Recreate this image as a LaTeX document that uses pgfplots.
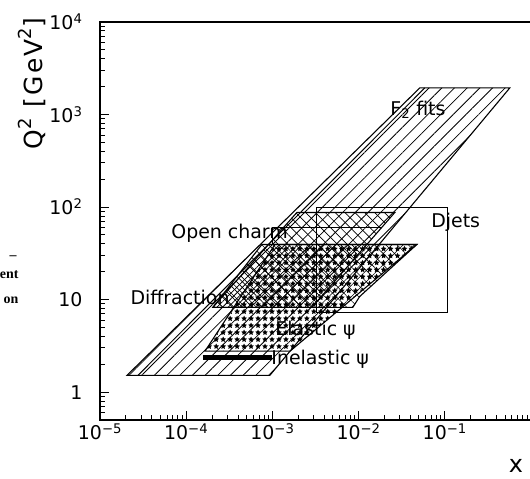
\documentclass[border=0pt]{standalone}
\usepackage{fontspec}
\setmainfont{DejaVu Sans}
\newfontfamily\widefont[LetterSpace=10]{DejaVu Sans}
\newfontfamily\serifbold{Liberation Serif}
\usepackage{pgfplots}
\pgfplotsset{compat=1.18}
\usetikzlibrary{patterns.meta}

\begin{document}
\begin{tikzpicture}
\useasboundingbox (-100bp,-59bp) rectangle (430bp,420bp);
\begin{axis}[
  scale only axis, width=431bp, height=398bp,
  xmode=log, ymode=log,
  xmin=1e-5, xmax=1, ymin=0.5, ymax=1e4,
  axis line style={line width=1.6pt},
  tick pos=left, tick align=inside,
  major tick length=9bp, minor tick length=5bp,
  every tick/.style={line width=1pt, black},
  xtick={1e-5,1e-4,1e-3,1e-2,1e-1},
  xticklabels={10\textsuperscript{−5},10\textsuperscript{−4},10\textsuperscript{−3},10\textsuperscript{−2},10\textsuperscript{−1}},
  minor xtick={2e-5,3e-5,4e-5,5e-5,6e-5,7e-5,8e-5,9e-5,
    2e-4,3e-4,4e-4,5e-4,6e-4,7e-4,8e-4,9e-4,
    2e-3,3e-3,4e-3,5e-3,6e-3,7e-3,8e-3,9e-3,
    2e-2,3e-2,4e-2,5e-2,6e-2,7e-2,8e-2,9e-2,
    0.2,0.3,0.4,0.5,0.6,0.7,0.8,0.9},
  ytick={1,10,100,1000,10000},
  yticklabels={1,10,10\textsuperscript{2},10\textsuperscript{3},10\textsuperscript{4}},
  minor ytick={0.6,0.7,0.8,0.9,2,3,4,5,6,7,8,9,
    20,30,40,50,60,70,80,90,200,300,400,500,600,700,800,900,
    2000,3000,4000,5000,6000,7000,8000,9000},
  tick label style={font=\fontsize{19}{22}\selectfont},
  yticklabel style={xshift=-14bp},
  ylabel={Q\raisebox{0.42em}{\fontsize{18}{20}\selectfont 2} [GeV\raisebox{0.42em}{\fontsize{18}{20}\selectfont 2}]},
  ylabel style={at={(axis description cs:-0.158,0.845)}, anchor=center,
    font=\widefont\fontsize{25}{30}\selectfont},
]

% F2 fits
\addplot[draw=black, line width=1.1pt,
  pattern={Lines[angle=45,distance=9pt,line width=0.8pt]}]
  coordinates {(2.06e-5,1.52) (9.35e-4,1.52) (0.568,1941) (0.0513,1941)} -- cycle;
\addplot[black, line width=1pt] coordinates {(2.76e-5,1.52) (0.0586,1941)};

% Open charm
\addplot[draw=black, line width=1.1pt,
  pattern={Lines[angle=-45,distance=7pt,line width=0.7pt]}]
  coordinates {(1.92e-3,87.3) (0.0263,87.3) (2.87e-3,8.25) (2.04e-4,8.25)} -- cycle;
\addplot[black, line width=1.1pt] coordinates {(1.01e-3,39.4) (1.01e-3,60.1) (0.0186,60.1)};

% Diffraction
\addplot[draw=black, line width=1.1pt,
  pattern={Hatch[angle=45,distance=8pt,line width=0.6pt]}]
  coordinates {(2.04e-4,8.25) (8.57e-3,8.25) (0.0103,10.8) (0.0473,39.4) (7.55e-4,39.4)} -- cycle;

% Elastic psi
\addplot[draw=black, line width=1.1pt,
  pattern={Stars[distance=7pt,radius=3pt,points=5]}]
  coordinates {(1.65e-4,2.77) (1.6e-3,2.77) (0.0473,39.4) (1.07e-3,39.4)} -- cycle;

% Inelastic psi
\addplot[black, line width=5pt] coordinates {(1.56e-4,2.38) (1.0e-3,2.38)};

% Djets
\addplot[black, line width=1.1pt]
  coordinates {(3.28e-3,7.3) (0.108,7.3) (0.108,98.9) (3.28e-3,98.9)} -- cycle;

\node[anchor=west, font=\fontsize{19}{22}\selectfont] at (axis cs:0.0213,1125) {F\textsubscript{2} fits};
\node[anchor=west, font=\fontsize{19}{22}\selectfont] at (axis cs:0.0635,68) {Djets};
\node[anchor=west, font=\fontsize{19}{22}\selectfont] at (axis cs:6.13e-5,51.8) {Open charm};
\node[anchor=west, font=\fontsize{19}{22}\selectfont] at (axis cs:2.06e-5,10.6) {Diffraction};
\node[anchor=west, font=\fontsize{19}{22}\selectfont] at (axis cs:9.87e-4,4.66) {Elastic ψ};
\node[anchor=west, font=\fontsize{19}{22}\selectfont] at (axis cs:8.87e-4,2.27) {Inelastic ψ};
\end{axis}

\node[inner sep=1pt, font=\fontsize{24}{28}\selectfont] at (416bp,-46bp) {x};
\node[anchor=east, font=\serifbold\bfseries\fontsize{14}{16}\selectfont] at (-80bp,162bp) {–};
\node[anchor=east, font=\serifbold\bfseries\fontsize{14}{16}\selectfont] at (-78bp,145bp) {ent};
\node[anchor=east, font=\serifbold\bfseries\fontsize{14}{16}\selectfont] at (-78bp,120bp) {on};
\end{tikzpicture}
\end{document}
